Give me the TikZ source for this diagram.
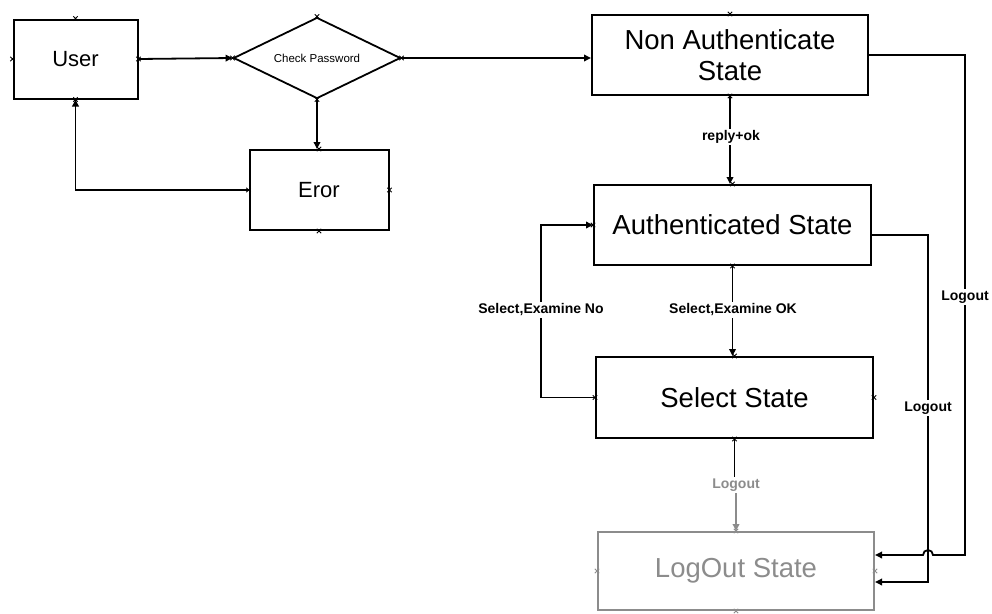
\documentclass[tikz,border=0pt]{standalone}
\usepackage{fontspec}
\setmainfont{Liberation Sans}
\usetikzlibrary{shapes.geometric,arrows.meta,calc}
\definecolor{lgray}{RGB}{140,140,140}
\begin{document}
\begin{tikzpicture}[x=1pt,y=-1pt,
  box/.style={draw,line width=2pt,inner sep=0pt,align=center},
  big/.style={font=\fontsize{27.5}{31}\selectfont},
  mid/.style={font=\fontsize{22}{26}\selectfont},
  lbl/.style={fill=white,inner sep=1.5pt,font=\bfseries\fontsize{14}{16}\selectfont},
  conn/.style={line width=1.8pt},
  arr/.style={conn,-{Triangle[length=7pt,width=6.5pt]}},
  xm/.pic={\draw[line width=0.9pt] (-2.2pt,-2.2pt)--(2.2pt,2.2pt) (-2.2pt,2.2pt)--(2.2pt,-2.2pt);}]
\useasboundingbox (0,0) rectangle (992,613);
% nodes
\node[box,mid,minimum width=124pt,minimum height=79pt] (User) at (75.5,59) {User};
\node[draw,line width=1.8pt,shape=diamond,aspect=2.06,inner sep=0pt,minimum width=167pt,minimum height=81pt,font=\fontsize{11.5}{13}\selectfont] (Chk) at (317,58) {Check Password};
\node[box,mid,minimum width=139pt,minimum height=80pt] (Eror) at (319,190) {Eror};
\node[box,big,minimum width=276pt,minimum height=80pt] (NA) at (730,55) {Non Authenticate\\State};
\node[box,big,minimum width=277pt,minimum height=80pt] (Auth) at (732.5,225) {Authenticated State};
\node[box,big,minimum width=277pt,minimum height=81pt] (Sel) at (734.5,397.5) {Select State};
\node[box,big,draw=lgray,text=lgray,minimum width=276pt,minimum height=78pt] (LO) at (736,571) {LogOut State};
% helper coordinates
\coordinate (loopx) at (541,0);
\coordinate (r1) at (965,0);
\coordinate (r2) at (928,0);
\coordinate (h1) at (933,0);
\coordinate (in1) at ([yshift=16pt]LO.east);
\coordinate (in2) at ([yshift=-11pt]LO.east);
\coordinate (aout) at ([yshift=-10pt]Auth.east);
% connectors
\draw[arr] (User.east) -- (Chk.west);
\draw[arr] (Chk.east) -- (Chk.east -| NA.west);
\draw[arr] (Chk.south) -- (Chk.south |- Eror.north);
\draw[arr] (Eror.west) -| (User.south);
\draw[arr] (NA.south) -- (NA.south |- Auth.north);
\draw[arr] (Auth.south) -- (Auth.south |- Sel.north);
\draw[arr] (Sel.west) -- (Sel.west -| loopx) |- (Auth.west);
\node[lbl,text=lgray] (l4) at (736,485) {Logout};
\draw[conn] (Sel.south) -- (Sel.south |- l4.north);
\draw[arr,draw=lgray] (l4.south) -- (l4.south |- LO.north);
\draw[arr] (aout) -| (r2 |- in2) -- (in2);
\draw[arr] (NA.east) -| (r1 |- in1) -- (h1 |- in1) arc[start angle=0,end angle=180,radius=5pt] -- (in1);
% labels
\node[lbl] (l1) at (731,137) {reply+ok};
\node[lbl] (l2) at (733,310) {Select,Examine OK};
\node[lbl] (l3) at (541,310) {Select,Examine No};
\node[lbl] (l5) at (965,297) {Logout};
\node[lbl] (l6) at (928,408) {Logout};
% connection point marks
\foreach \p in {User.north,User.south,User.west,User.east,Chk.north,Chk.south,Chk.west,Chk.east,
  Eror.north,Eror.south,Eror.west,Eror.east,NA.north,NA.south,Auth.north,Auth.south,Auth.west,
  Sel.north,Sel.south,Sel.west,Sel.east}
  \pic at (\p) {xm};
\foreach \p in {LO.north,LO.south,LO.west,LO.east}
  \pic[lgray] at (\p) {xm};
\end{tikzpicture}
\end{document}
